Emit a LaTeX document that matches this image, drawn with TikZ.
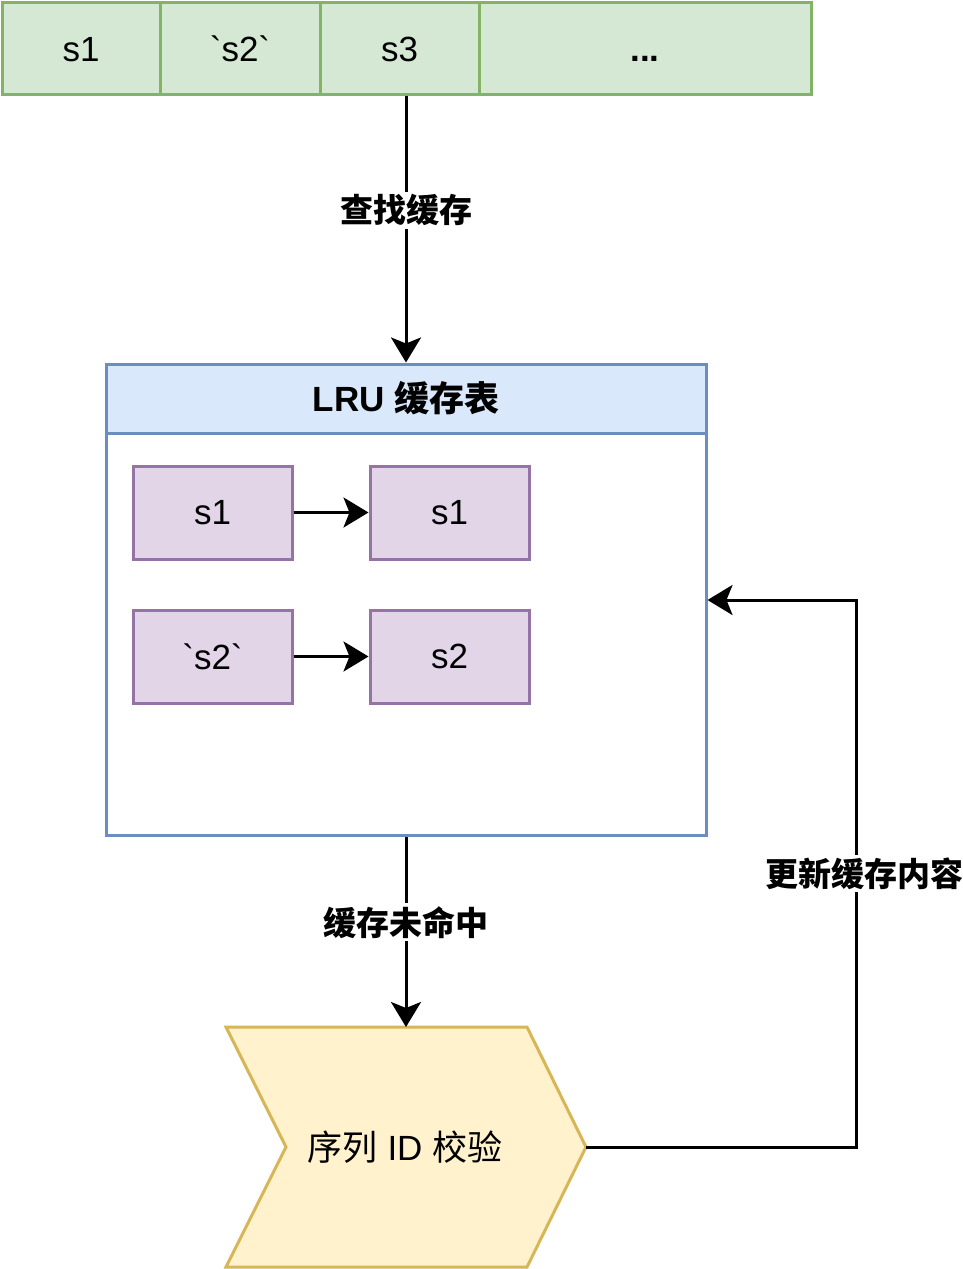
\documentclass[tikz,border=0pt]{standalone}
\usepackage{fontspec}
\setmainfont{Liberation Sans}
\newfontfamily\cjk{Noto Sans CJK SC}
\usetikzlibrary{arrows.meta,positioning}
\tikzset{arr/.style={-{Stealth[length=25pt,width=30pt,inset=6pt]}}}
\definecolor{cellfill}{HTML}{D5E8D4}
\definecolor{celldraw}{HTML}{82B366}
\definecolor{tblfill}{HTML}{DAE8FC}
\definecolor{tbldraw}{HTML}{6C8EBF}
\definecolor{itemfill}{HTML}{E1D5E7}
\definecolor{itemdraw}{HTML}{9673A6}
\definecolor{chkfill}{HTML}{FFF2CC}
\definecolor{chkdraw}{HTML}{D6B656}

\begin{document}
\begin{tikzpicture}[x=1pt,y=-1pt,line width=3pt,font=\fontsize{35}{42}\selectfont,
    cell/.style={draw=celldraw,fill=cellfill,minimum height=92pt,inner sep=0pt,text height=26pt,text depth=0pt},
    item/.style={draw=itemdraw,fill=itemfill,minimum width=159pt,minimum height=93pt,inner sep=0pt},
    lbl/.style={fill=white,inner sep=3pt,font=\fontsize{33}{40}\selectfont\cjk\bfseries}]
    \useasboundingbox (0,0) rectangle (963,1269);
    % input sequence
    \node[cell,minimum width=158pt] (s1) at (81,48) {s1};
    \node[cell,minimum width=160pt] (s2) at (240,48) {\textasciigrave s2\textasciigrave};
    \node[cell,minimum width=159pt] (s3) at (399.5,48) {s3};
    \node[cell,minimum width=332pt] (more) at (645,48) {\textbf{...}};
    % LRU table
    \node[draw=tbldraw,fill=white,minimum width=600pt,minimum height=471pt] (lru) at (406,599.5) {};
    \node[draw=tbldraw,fill=tblfill,minimum width=600pt,minimum height=69pt,inner sep=0pt] (lruhead) at (406,398.5) {\textbf{LRU {\cjk 缓存表}}};
    \node[item] (k1) at (212.5,512.5) {s1};
    \node[item] (v1) at (449.5,512.5) {s1};
    \node[item] (k2) at (212.5,656.5) {\textasciigrave s2\textasciigrave};
    \node[item] (v2) at (449.5,656.5) {s2};
    \draw[arr] (k1) -- (v1);
    \draw[arr] (k2) -- (v2);
    % check step
    \draw[draw=chkdraw,fill=chkfill] (226,1027) -- (527,1027) -- (586,1147) -- (527,1267) -- (226,1267) -- (286,1147) -- cycle;
    \node (chk) at (405,1147) {{\cjk 序列} ID {\cjk 校验}};
    \coordinate (chkTop) at (406,1027);
    \coordinate (chkTip) at (586,1147);
    \coordinate (upd) at (856,600);
    % connectors
    \draw[arr] (s3.south -| lruhead.north) -- node[lbl,pos=0.43] {查找缓存} (lruhead.north);
    \draw[arr] (lru.south) -- node[lbl,pos=0.45] {缓存未命中} (chkTop);
    \draw[arr] (chkTip) -| node[lbl,pos=0.75,xshift=8pt] {更新缓存内容} (upd) -- (upd -| lru.east);
\end{tikzpicture}
\end{document}
